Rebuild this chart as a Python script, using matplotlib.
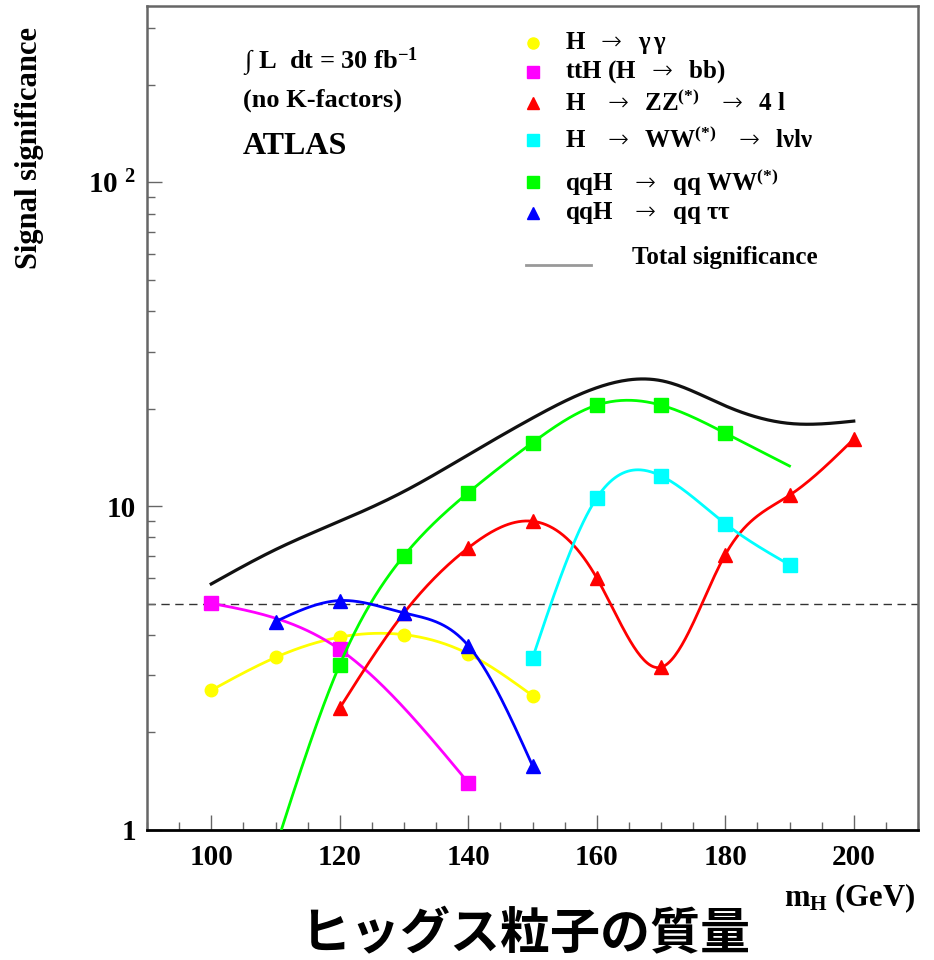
import numpy as np
import matplotlib
matplotlib.use("Agg")
import matplotlib.pyplot as plt
from matplotlib.ticker import FixedLocator, MultipleLocator, NullFormatter

plt.rcParams['font.family'] = ['Liberation Serif', 'DejaVu Serif']
plt.rcParams['font.weight'] = 'bold'
plt.rcParams['mathtext.fontset'] = 'custom'
plt.rcParams['mathtext.rm'] = 'Liberation Serif:bold'
plt.rcParams['mathtext.it'] = 'Liberation Serif:bold:italic'
plt.rcParams['mathtext.bf'] = 'Liberation Serif:bold'
plt.rcParams['mathtext.sf'] = 'DejaVu Sans:extralight'
plt.rcParams['mathtext.tt'] = 'Liberation Serif'

# ---------------- data ----------------
gg_x = [100, 110, 120, 130, 140, 150]
gg_y = [2.70, 3.41, 3.94, 4.01, 3.50, 2.60]

tth_x = [100, 120, 140]
tth_y = [5.01, 3.61, 1.40]

zz_x = [120, 130, 140, 150, 160, 170, 180, 190, 200]
zz_y = [2.38, 4.68, 7.43, 8.98, 6.00, 3.18, 7.08, 10.8, 16.1]

ww_x = [150, 160, 170, 180, 190]
ww_y = [3.39, 10.6, 12.4, 8.83, 6.59]

qqww_x = [110, 120, 130, 140, 150, 160, 170, 180, 190]
qqww_y = [0.88, 3.24, 7.03, 11.0, 15.7, 20.5, 20.5, 16.8, 13.3]
qqww_marked = [False, True, True, True, True, True, True, True, False]

qqtt_x = [110, 120, 130, 140, 150]
qqtt_y = [4.40, 5.11, 4.68, 3.71, 1.58]

tot_x = [100, 110, 120, 130, 140, 150, 160, 170, 180, 190, 200]
tot_y = [5.75, 7.34, 8.98, 11.1, 14.4, 18.7, 23.2, 24.4, 20.4, 18.0, 18.3]

discovery_level = 5.0

x_ticks = [100, 120, 140, 160, 180, 200]
y_ticks = [1, 10, 100]
y_ticklabels = ['1', '10', '10 $^{2}$']

AR = r'$\mathsf{\rightarrow}$'
legend_labels = [
    'H  ' + AR + r'  $\mathtt{γ\,γ}$',
    'ttH (H  ' + AR + '  bb)',
    'H   ' + AR + '  ZZ$^{(*)}$   ' + AR + '  4 l',
    'H   ' + AR + '  WW$^{(*)}$   ' + AR + '  l' + r'$\mathtt{ν}$' + 'l' + r'$\mathtt{ν}$',
    'qqH   ' + AR + '  qq WW$^{(*)}$',
    'qqH   ' + AR + '  qq ' + r'$\mathtt{ττ}$',
]
total_label = 'Total significance'


def smooth(x, y, n=300):
    """Natural cubic spline through (x, log10 y)."""
    x = np.asarray(x, float)
    a = np.log10(np.asarray(y, float))
    m = len(x)
    h = np.diff(x)
    A = np.zeros((m, m))
    r = np.zeros(m)
    A[0, 0] = 1.0
    A[-1, -1] = 1.0
    for i in range(1, m - 1):
        A[i, i - 1] = h[i - 1]
        A[i, i] = 2 * (h[i - 1] + h[i])
        A[i, i + 1] = h[i]
        r[i] = 3 * ((a[i + 1] - a[i]) / h[i] - (a[i] - a[i - 1]) / h[i - 1])
    c = np.linalg.solve(A, r)
    b = np.zeros(m - 1)
    d = np.zeros(m - 1)
    for i in range(m - 1):
        b[i] = (a[i + 1] - a[i]) / h[i] - h[i] * (2 * c[i] + c[i + 1]) / 3
        d[i] = (c[i + 1] - c[i]) / (3 * h[i])
    xs = np.linspace(x[0], x[-1], n)
    idx = np.clip(np.searchsorted(x, xs) - 1, 0, m - 2)
    t = xs - x[idx]
    ys = a[idx] + b[idx] * t + c[idx] * t ** 2 + d[idx] * t ** 3
    return xs, 10 ** ys


fig = plt.figure(figsize=(9.34, 9.6), dpi=100)
ax = fig.add_axes([147 / 934, 1 - 830 / 960, 771 / 934, 824 / 960])
ax.set_yscale('log')
ax.set_xlim(90, 210)
ax.set_ylim(1, 350)

lw = 2.0
series = [
    (gg_x, gg_y, '#ffff00', 'o', 9, 3),
    (tth_x, tth_y, '#ff00ff', 's', 10, 3),
    (zz_x, zz_y, '#ff0000', '^', 10, 3),
    (ww_x, ww_y, '#00ffff', 's', 10, 3),
    (qqtt_x, qqtt_y, '#0000ff', '^', 10, 5),
]
for xs, ys, col, mk, ms, z in series:
    sx, sy = smooth(xs, ys)
    ax.plot(sx, sy, color=col, lw=lw, zorder=z)
    ax.plot(xs, ys, ls='none', marker=mk, ms=ms, color=col, mec=col, zorder=z + 0.5)

# qqH -> qq WW
sx, sy = smooth(qqww_x, qqww_y)
ax.plot(sx, sy, color='#00ff00', lw=lw, zorder=4)
mx = [xv for xv, f in zip(qqww_x, qqww_marked) if f]
my = [yv for yv, f in zip(qqww_y, qqww_marked) if f]
ax.plot(mx, my, ls='none', marker='s', ms=10, color='#00ff00', zorder=4.5)

# total
sx, sy = smooth(tot_x, tot_y)
ax.plot(sx, sy, color='#111111', lw=2.3, zorder=6)

# 5 sigma line
ax.axhline(discovery_level, color='#333333', lw=1.0, ls=(0, (6, 4)), zorder=1)

# ticks
ax.xaxis.set_major_locator(FixedLocator(x_ticks))
ax.xaxis.set_minor_locator(MultipleLocator(5))
ax.set_yticks(y_ticks)
ax.set_yticklabels(y_ticklabels)
ax.yaxis.set_minor_locator(matplotlib.ticker.LogLocator(base=10, subs=np.arange(2, 10)))
ax.yaxis.set_minor_formatter(NullFormatter())
ax.tick_params(axis='both', which='major', direction='in', length=11, width=1,
               color='#666666', labelsize=21)
ax.tick_params(axis='both', which='minor', direction='in', length=5.5, width=1,
               color='#666666')
ax.tick_params(axis='x', which='major', pad=10)
ax.tick_params(axis='y', which='major', pad=8)
for lab in ax.get_xticklabels() + ax.get_yticklabels():
    lab.set_fontweight('bold')
for s in ['left', 'top', 'right']:
    ax.spines[s].set_color('#666666')
    ax.spines[s].set_linewidth(1.8)
ax.spines['bottom'].set_color('#000000')
ax.spines['bottom'].set_linewidth(2.0)

# annotations in the plot
ax.text(0.1245, 0.932, r'∫ L  dt = 30 fb$^{-1}$', transform=ax.transAxes,
        fontsize=19, va='center', ha='left', fontweight='bold')
ax.text(0.1245, 0.886, '(no K-factors)', transform=ax.transAxes,
        fontsize=19, va='center', ha='left', fontweight='bold')
ax.text(0.1245, 0.830, 'ATLAS', transform=ax.transAxes,
        fontsize=23, va='center', ha='left', fontweight='bold')

# legend (manual)
leg_rows = [0.9551, 0.9199, 0.8823, 0.8374, 0.7864, 0.7488]
leg_styles = [('#ffff00', 'o', 8), ('#ff00ff', 's', 8), ('#ff0000', '^', 8),
              ('#00ffff', 's', 8), ('#00ff00', 's', 8), ('#0000ff', '^', 8)]
for yv, (col, mk, ms), lab in zip(leg_rows, leg_styles, legend_labels):
    ax.plot([0.5006], [yv], transform=ax.transAxes, ls='none', marker=mk, ms=ms,
            color=col, clip_on=False, zorder=7)
    ax.text(0.5422, yv, lab, transform=ax.transAxes, fontsize=18,
            va='center', ha='left', fontweight='bold')
ax.plot([0.4916, 0.5759], [0.6857, 0.6857], transform=ax.transAxes,
        color='#999999', lw=2.0, clip_on=False)
ax.text(0.6291, 0.6942, total_label, transform=ax.transAxes, fontsize=18,
        va='center', ha='left', fontweight='bold')

# axis labels
fig.text(30 / 934, 1 - 148 / 960, 'Signal significance', rotation=90,
         fontsize=22, fontweight='bold', ha='center', va='center')
fig.text(915 / 934, 1 - 898 / 960, r'm$_{\mathrm{H}}$ (GeV)', fontsize=22,
         fontweight='bold', ha='right', va='center')
fig.text(525 / 934, 1 - 935 / 960, 'ヒッグス粒子の質量', fontsize=36,
         fontweight='bold', ha='center', va='center',
         family=['Noto Sans CJK JP', 'DejaVu Sans'])

fig.savefig('out.png', dpi=100)
